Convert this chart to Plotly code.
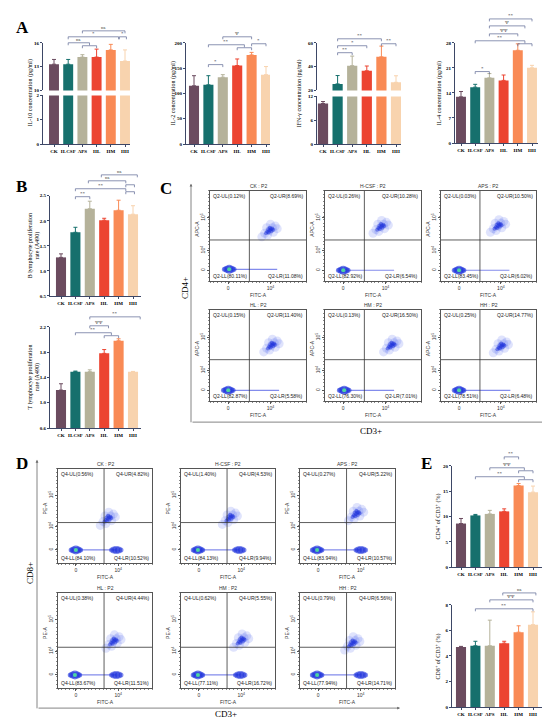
import plotly.graph_objects as go

W, H = 550, 718
def fx(p): return p / W
def fy(p): return 1 - p / H

# ---------------- data ----------------
groups = ["CK", "H-CSF", "APS", "HL", "HM", "HH"]
colors = ["#6B4B5F", "#16706D", "#B5B29A", "#EC4431", "#F98A55", "#F8D3AE"]

il10 = [13.3, 13.3, 14.2, 14.2, 15.1, 13.7]
il10_err = [0.6, 0.6, 0.3, 1.0, 0.7, 1.4]
il2 = [115, 117, 132, 155, 176, 137]
il2_err = [20, 18, 5, 13, 5, 16]
ifng = [10.2, 25.5, 40.8, 36.5, 48.2, 26.8]
ifng_err = [0.5, 7, 8, 4, 9, 5.5]
il4 = [12.9, 15.6, 18.2, 17.5, 25.9, 21.0]
il4_err = [1.5, 0.8, 1.2, 1.5, 1.8, 0.7]
b_prolif = [1.27, 1.77, 2.24, 2.01, 2.21, 2.13]
b_err = [0.07, 0.10, 0.15, 0.04, 0.20, 0.17]
t_prolif = [1.20, 1.49, 1.49, 1.78, 1.98, 1.49]
t_err = [0.10, 0.01, 0.03, 0.06, 0.03, 0.005]
cd4_pct = [8.6, 10.2, 10.5, 11.0, 16.1, 14.8]
cd4_pct_err = [1.0, 0.2, 0.7, 0.5, 0.4, 1.2]
cd8_pct = [4.7, 4.8, 4.8, 5.0, 5.86, 6.45]
cd8_pct_err = [0.05, 0.35, 2.0, 0.15, 0.5, 1.0]

flow_titles = ["CK : P2", "H-CSF : P2", "APS : P2", "HL : P2", "HM : P2", "HH : P2"]
cd4_UL = [0.12, 0.26, 0.03, 0.15, 0.13, 0.25]
cd4_UR = [8.69, 10.28, 10.50, 11.40, 16.50, 14.77]
cd4_LL = [80.11, 82.92, 83.45, 82.87, 76.30, 78.51]
cd4_LR = [11.08, 6.54, 6.02, 5.58, 7.01, 6.48]
cd8_UL = [0.56, 1.40, 0.27, 0.38, 0.62, 0.79]
cd8_UR = [4.82, 4.53, 5.22, 4.44, 5.55, 6.56]
cd8_LL = [84.10, 84.13, 83.94, 83.67, 77.11, 77.94]
cd8_LR = [10.52, 9.94, 10.57, 11.51, 16.72, 14.71]

# cluster centres (display units 0-1)
cd4_ll_x = [0.20, 0.19, 0.19, 0.19, 0.20, 0.19]
cd4_ll_y = [0.13, 0.12, 0.12, 0.12, 0.12, 0.12]
cd4_lr_end = [0.70, 0.72, 0.72, 0.72, 0.72, 0.73]
cd4_ur_x = [0.62, 0.58, 0.60, 0.64, 0.69, 0.63]
cd4_ur_y = [0.56, 0.60, 0.61, 0.61, 0.61, 0.60]
cd8_ll_x = [0.19, 0.18, 0.18, 0.18, 0.18, 0.18]
cd8_ll_y = [0.14, 0.14, 0.14, 0.14, 0.14, 0.14]
cd8_lr_x = [0.62, 0.62, 0.64, 0.62, 0.63, 0.64]
cd8_ur_x = [0.53, 0.52, 0.59, 0.59, 0.64, 0.55]
cd8_ur_y = [0.47, 0.48, 0.52, 0.49, 0.50, 0.47]

# ---------------- helpers ----------------
fig = go.Figure()
layout = {}
shapes = []
annotations = []
counter = [0]
AX = "#3d4766"
SIG = "#5a6692"
SERIF = "Liberation Serif"
SANS = "Liberation Sans"
# glyph used to draw a soft cloud around a cluster centre (style, not data)
CLOUD_DX = [-0.08, -0.05, -0.02, 0.0, 0.03, 0.06, 0.08, -0.03, 0.04, 0.01]
CLOUD_DY = [-0.07, -0.03, -0.05, 0.0, 0.03, 0.05, 0.02, 0.03, -0.02, 0.07]
STRIP_DX = [-0.05, -0.025, 0.0, 0.025, 0.05]


def new_axes(xd, yd, xkw, ykw):
    counter[0] += 1
    n = counter[0]
    s = "" if n == 1 else str(n)
    xn, yn = "x" + s, "y" + s
    layout["xaxis" + s] = dict(domain=xd, anchor=yn, **xkw)
    layout["yaxis" + s] = dict(domain=yd, anchor=xn, **ykw)
    return xn, yn


def text(t, x, y, size=6, family=SERIF, angle=0, xa="center", ya="middle", color="black", xref="paper", yref="paper"):
    annotations.append(dict(text=t, x=x, y=y, xref=xref, yref=yref, textangle=angle,
                            xanchor=xa, yanchor=ya, showarrow=False, borderpad=0,
                            font=dict(family=family, size=size, color=color)))


def bar_panel(vals, errs, x0, x1, ck, step, segs, ytitle, ytx, yty):
    xr = [-(ck - x0) / step, (x1 - ck) / step]
    xn_bottom = None
    for k, (yt, yb, yr, tv, tt) in enumerate(segs):
        bottom = k == len(segs) - 1
        xkw = dict(range=xr, showline=bottom, linecolor=AX, linewidth=1,
                   ticks="outside" if bottom else "", ticklen=2, tickcolor=AX,
                   tickvals=list(range(6)), ticktext=[f"<b>{g}</b>" for g in groups],
                   showticklabels=bottom, tickangle=0,
                   tickfont=dict(family=SERIF, size=5, color="black"),
                   showgrid=False, zeroline=False, fixedrange=True)
        ykw = dict(range=yr, showline=True, linecolor=AX, linewidth=1, ticks="outside",
                   ticklen=2, tickcolor=AX, tickvals=tv, ticktext=[f"<b>{t}</b>" for t in tt],
                   tickfont=dict(family=SERIF, size=5, color="black"), showgrid=False,
                   zeroline=False, fixedrange=True)
        xn, yn = new_axes([fx(x0), fx(x1)], [fy(yb), fy(yt)], xkw, ykw)
        for i in range(6):
            fig.add_trace(go.Bar(x=[i], y=[vals[i]], width=0.7,
                                 marker=dict(color=colors[i], line=dict(width=0)),
                                 error_y=dict(type="data", array=[errs[i]], arrayminus=[0],
                                              symmetric=False, color=colors[i], thickness=1, width=2),
                                 xaxis=xn, yaxis=yn, showlegend=False, hoverinfo="skip"))
        xn_bottom = xn
    text(ytitle, fx(ytx), fy(yty), size=6, angle=-90)
    return xn_bottom


def sig(xn, a, b, ypx, label, drop=2.5):
    shapes.append(dict(type="path", xref=xn, yref="paper",
                       path=f"M {a},{fy(ypx + drop)} L {a},{fy(ypx)} L {b},{fy(ypx)} L {b},{fy(ypx + drop)}",
                       line=dict(color=SIG, width=0.7)))
    if label:
        annotations.append(dict(text=label, x=(a + b) / 2, xref=xn, y=fy(ypx + 0.5), yref="paper",
                                yanchor="bottom", showarrow=False, borderpad=0,
                                font=dict(family=SERIF, size=5, color="#333")))


def dots(xn, yn, xs, ys, size, color):
    fig.add_trace(go.Scatter(x=xs, y=ys, mode="markers",
                             marker=dict(size=size, color=color, line=dict(width=0)),
                             xaxis=xn, yaxis=yn, showlegend=False, hoverinfo="skip"))


def flow_panel(x0, x1, y0, y1, i, ul, ur, ll, lr, prefix, gate, xt, yt, ytitle,
               llx, lly, urx, ury, lrx, streak):
    base = dict(range=[0, 1], showline=True, mirror=True, linecolor="#555", linewidth=0.8,
                ticks="outside", ticklen=2, tickcolor="#555", showgrid=False, zeroline=False,
                fixedrange=True, tickfont=dict(family=SANS, size=5, color="#333"),
                minor=dict(ticks="outside", ticklen=1.2, tickmode="linear", tick0=0, dtick=0.04,
                           tickcolor="#888"))
    xkw = dict(base, tickvals=xt, ticktext=["0", "10<sup>4</sup>"])
    ykw = dict(base, tickvals=yt, ticktext=["0", "10<sup>4</sup>", "10<sup>5</sup>"], tickangle=-90)
    xn, yn = new_axes([fx(x0), fx(x1)], [fy(y1), fy(y0)], xkw, ykw)
    vx, hy = gate
    shapes.append(dict(type="line", xref=xn, yref=yn, x0=vx, x1=vx, y0=0, y1=1,
                       line=dict(color="#333", width=0.8)))
    shapes.append(dict(type="line", xref=xn, yref=yn, x0=0, x1=1, y0=hy, y1=hy,
                       line=dict(color="#333", width=0.8)))
    # streak along the negative axis
    fig.add_trace(go.Scatter(x=[llx[i] + 0.05, streak[i]], y=[lly[i], lly[i]], mode="lines",
                             line=dict(color="rgba(30,45,220,0.55)", width=1.2),
                             xaxis=xn, yaxis=yn, showlegend=False, hoverinfo="skip"))
    # double-positive cloud
    dots(xn, yn, [urx[i] + d for d in CLOUD_DX], [ury[i] + d for d in CLOUD_DY], 9, "rgba(80,100,240,0.18)")
    dots(xn, yn, [urx[i] + 0.45 * d for d in CLOUD_DX], [ury[i] + 0.45 * d for d in CLOUD_DY], 4,
         "rgba(30,50,220,0.5)")
    if lrx is not None:
        dots(xn, yn, [lrx[i] + d for d in STRIP_DX], [lly[i]] * 5, [5, 7, 8, 7, 5], "rgba(30,50,220,0.8)")
    # negative cluster
    dots(xn, yn, [llx[i] + d for d in STRIP_DX], [lly[i]] * 5, [5, 7, 9, 7, 5], "rgba(30,50,220,0.9)")
    dots(xn, yn, [llx[i]], [lly[i]], 4, "#4CD6A0")
    qf = dict(family=SANS, size=5, color="#222")
    for (t, ax, ay, xa, ya) in [(f"{prefix}-UL({ul[i]:.2f}%)", 0.02, 0.985, "left", "top"),
                                (f"{prefix}-UR({ur[i]:.2f}%)", 0.98, 0.985, "right", "top"),
                                (f"{prefix}-LL({ll[i]:.2f}%)", 0.02, 0.015, "left", "bottom"),
                                (f"{prefix}-LR({lr[i]:.2f}%)", 0.98, 0.015, "right", "bottom")]:
        annotations.append(dict(text=t, x=ax, y=ay, xref=f"{xn} domain", yref=f"{yn} domain",
                                xanchor=xa, yanchor=ya, showarrow=False, borderpad=0, font=qf))
    text(flow_titles[i], fx((x0 + x1) / 2), fy(y0 - 1), size=5, family=SANS, ya="bottom", color="#333")
    text("FITC-A", fx(x0 + 0.5 * (x1 - x0)), fy(y1 + 14), size=5, family=SANS, color="#333")
    text(ytitle, fx(x0 - 13), fy(y0 + 0.42 * (y1 - y0)), size=5, family=SANS, angle=-90, color="#333")


# ---------------- panel A ----------------
xa1 = bar_panel(il10, il10_err, 35, 122, 46, 14.2,
                [(33, 81, [10, 16], [10, 13, 16], ["10", "13", "16"]),
                 (86, 135, [0, 2], [0, 1, 2], ["0", "1", "2"])],
                "IL-10 concentration (pg/ml)", 22, 84)
xa2 = bar_panel(il2, il2_err, 178, 262, 186, 14.4,
                [(33, 135, [0, 200], [0, 50, 100, 150, 200], ["0", "50", "100", "150", "200"])],
                "IL-2 concentration (pg/ml)", 165, 84)
xa3 = bar_panel(ifng, ifng_err, 309, 393, 315, 14.6,
                [(33, 81, [20, 60], [20, 40, 60], ["20", "40", "60"]),
                 (87, 135, [0, 12], [0, 6, 12], ["0", "6", "12"])],
                "IFN-γ concentration (pg/ml)", 291, 84)
xa4 = bar_panel(il4, il4_err, 447, 530, 453, 14.2,
                [(33, 134, [0, 28], [0, 7, 14, 21, 28], ["0", "7", "14", "21", "28"])],
                "IL-4 concentration (pg/ml)", 431, 84)

sig(xa1, 2, 5, 21, "ns")
sig(xa1, 1, 4.55, 27, "*")
sig(xa1, 4.6, 5.1, 27, "*")
sig(xa1, 1, 2.5, 33, "ns")
sig(xa1, 2, 3, 36, "")

sig(xa2, 2, 4, 27, "Ψ")
sig(xa2, 1, 3.5, 35, "**")
sig(xa2, 3, 4, 38, "")
sig(xa2, 4, 5, 34, "*")
sig(xa2, 1, 2, 55, "*")

sig(xa3, 1, 4, 29, "**")
sig(xa3, 1, 3, 36, "*")
sig(xa3, 1, 2, 43, "**")
sig(xa3, 4, 5, 34, "**")

sig(xa4, 2, 5, 9, "**")
sig(xa4, 2, 4.5, 16, "Ψ")
sig(xa4, 2, 4, 24, "ΨΨ")
sig(xa4, 1, 4.5, 31, "**")
sig(xa4, 4, 5, 34, "")
sig(xa4, 1, 2, 62, "*")

# ---------------- panel B ----------------
xb1 = bar_panel(b_prolif, b_err, 42, 133, 53, 14.4,
                [(187, 288, [0.5, 2.5], [0.5, 1.0, 1.5, 2.0, 2.5], ["0.5", "1.0", "1.5", "2.0", "2.5"])],
                "B lymphocyte proliferation<br>rate (A490)", 26, 238)
xb2 = bar_panel(t_prolif, t_err, 42, 133, 53, 14.4,
                [(319, 421, [0.6, 2.2], [0.6, 1.0, 1.4, 1.8, 2.2], ["0.6", "1.0", "1.4", "1.8", "2.2"])],
                "T lymphocyte proliferation<br>rate (A490)", 26, 370)
sig(xb1, 2.8, 5.3, 166, "ns")
sig(xb1, 1.9, 4.5, 172, "ns")
sig(xb1, 4.5, 5.1, 176, "")
sig(xb1, 1, 4.5, 180, "**")
sig(xb1, 4.5, 5.1, 183, "")
sig(xb1, 1, 2, 188, "**")

sig(xb2, 2, 5.5, 309, "**")
sig(xb2, 2, 3.3, 318, "ΨΨ")
sig(xb2, 1, 3.5, 325, "**")
sig(xb2, 3, 4, 328, "")

# ---------------- panel E ----------------
xe1 = bar_panel(cd4_pct, cd4_pct_err, 444, 538, 453, 14.4,
                [(459, 561, [0, 20], [0, 5, 10, 15, 20], ["0", "5", "10", "15", "20"])],
                "CD4<sup>+</sup> of CD3<sup>+</sup> (%)", 430, 510)
xe2 = bar_panel(cd8_pct, cd8_pct_err, 444, 538, 453, 14.4,
                [(599, 702, [0, 8], [0, 2, 4, 6, 8], ["0", "2", "4", "6", "8"])],
                "CD8<sup>+</sup> of CD3<sup>+</sup> (%)", 430, 651)
sig(xe1, 3, 4, 450, "**")
sig(xe1, 2, 4.4, 461, "ΨΨ")
sig(xe1, 4, 5, 464, "")
sig(xe1, 1, 4.4, 470, "**")
sig(xe1, 4, 5, 473, "")

sig(xe2, 2.9, 5.2, 587, "ns")
sig(xe2, 2, 5, 594, "ΨΨ")
sig(xe2, 1, 5, 603, "**")

# ---------------- panel C (CD4) ----------------
c_cols = [(202, 298), (317, 413), (433, 528)]
c_rows = [(182, 273), (302, 394)]
for i in range(6):
    (x0, x1), (y0, y1) = c_cols[i % 3], c_rows[i // 3]
    flow_panel(x0, x1, y0, y1, i, cd4_UL, cd4_UR, cd4_LL, cd4_LR, "Q2", (0.41, 0.455),
               [0.19, 0.63], [0.12, 0.34, 0.70], "APC-A",
               cd4_ll_x, cd4_ll_y, cd4_ur_x, cd4_ur_y, None, cd4_lr_end)

# ---------------- panel D (CD8) ----------------
d_cols = [(50, 144), (173, 267), (292, 387)]
d_rows = [(462, 557), (587, 683)]
for i in range(6):
    (x0, x1), (y0, y1) = d_cols[i % 3], d_rows[i // 3]
    flow_panel(x0, x1, y0, y1, i, cd8_UL, cd8_UR, cd8_LL, cd8_LR, "Q4", (0.49, 0.43),
               [0.19, 0.64], [0.14, 0.39, 0.72], "PE-A",
               cd8_ll_x, cd8_ll_y, cd8_ur_x, cd8_ur_y, cd8_lr_x, cd8_lr_x)

# big axes arrows
for (hx, hy, ax_, ay_) in [(183, 175, 0, 240), (548, 415, -365, 0), (29, 453, 0, 250), (392, 703, -363, 0)]:
    annotations.append(dict(x=fx(hx), y=fy(hy), xref="paper", yref="paper", ax=ax_, ay=ay_,
                            text="", showarrow=True, arrowhead=2, arrowsize=0.7, arrowwidth=0.8,
                            arrowcolor="#666"))
text("CD4+", fx(177), fy(280), size=9, angle=-90)
text("CD3+", fx(363), fy(424), size=9)
text("CD8+", fx(22), fy(567), size=9, angle=-90)
text("CD3+", fx(218), fy(709), size=9)

# panel letters
for (lab, px, py) in [("A", 7, 7), ("B", 7, 167), ("C", 151, 169), ("D", 7, 446), ("E", 412, 446)]:
    text(f"<b>{lab}</b>", fx(px), fy(py), size=17, xa="left", ya="top")

fig.update_layout(**layout)
fig.update_layout(width=W, height=H, margin=dict(l=0, r=0, t=0, b=0), autosize=False,
                  paper_bgcolor="white", plot_bgcolor="white", barmode="overlay",
                  showlegend=False, shapes=shapes, annotations=annotations)
fig.write_html("out.html")
